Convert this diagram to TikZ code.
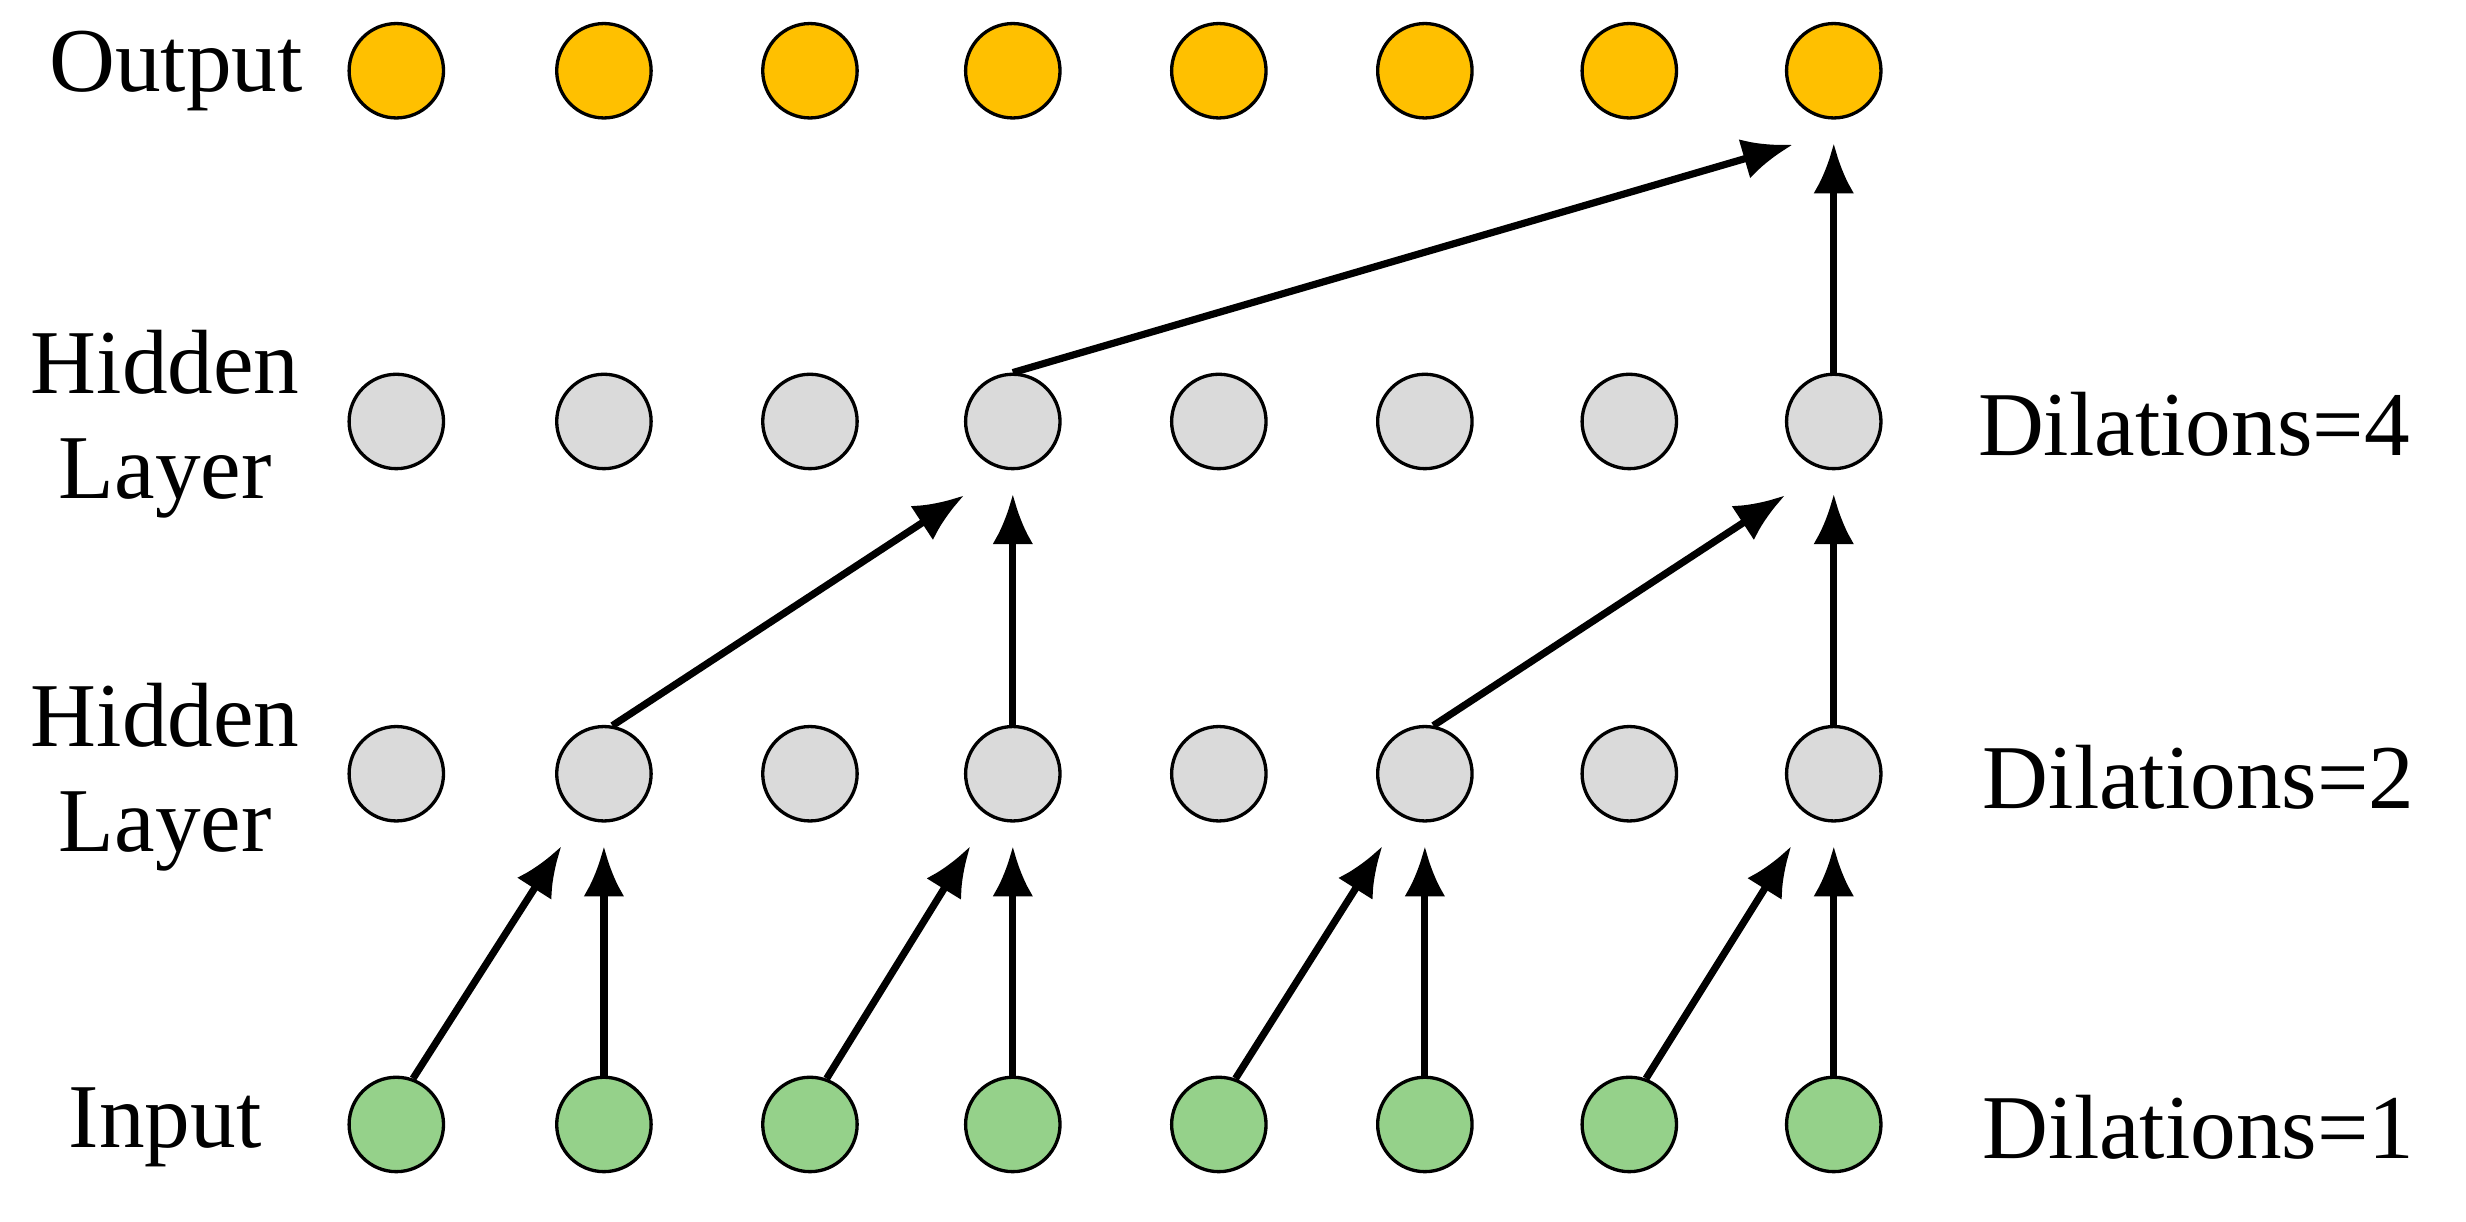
\documentclass[tikz,border=0pt]{standalone}
\usepackage{fontspec}
\setmainfont{Liberation Serif}
\usetikzlibrary{arrows.meta}
\definecolor{cout}{HTML}{FFC000}
\definecolor{chid}{HTML}{DADADA}
\definecolor{cin}{HTML}{95D18A}
\begin{document}
\begin{tikzpicture}[x=0.01cm,y=-0.01cm,
  nd/.style={circle,draw=black,line width=0.6pt,minimum size=0.6cm,inner sep=0pt},
  ar/.style={-{Latex[length=3.2mm,width=2.6mm]},line width=1.3pt},
  lb/.style={font=\fontsize{16.5}{19}\selectfont,align=center}]
\useasboundingbox (0,0) rectangle (1568,777);
\foreach \i/\x in {0/252,1/384,2/515,3/644,4/775,5/906,6/1036,7/1166}{
  \node[nd,fill=cout] (o\i) at (\x,45) {};
  \node[nd,fill=chid] (b\i) at (\x,268) {};
  \node[nd,fill=chid] (a\i) at (\x,492) {};
  \node[nd,fill=cin] (n\i) at (\x,715) {};
}
\foreach \i/\j in {0/1,2/3,4/5,6/7}{\draw[ar] (n\i.70) -- ([shift={(-27,46)}]a\j.center);}
\foreach \j in {1,3,5,7}{\draw[ar] (n\j.north) -- ([shift={(0,46)}]a\j.center);}
\foreach \i/\j in {1/3,5/7}{\draw[ar] (a\i.80) -- ([shift={(-31,47)}]b\j.center);}
\foreach \j in {3,7}{\draw[ar] (a\j.north) -- ([shift={(0,46)}]b\j.center);}
\draw[ar] (b3.north) -- ([shift={(-26,47)}]o7.center);
\draw[ar] (b7.north) -- ([shift={(0,46)}]o7.center);
\node[lb] (l1) at (112,45) {Output};
\node[lb] (l2) at (105,270) {Hidden\\Layer};
\node[lb] (l3) at (105,494) {Hidden\\Layer};
\node[lb] (l4) at (105,717) {Input};
\node[lb] (d4) at (1395,270) {Dilations=4};
\node[lb] (d2) at (1398,494) {Dilations=2};
\node[lb] (d1) at (1398,717) {Dilations=1};
\end{tikzpicture}
\end{document}
